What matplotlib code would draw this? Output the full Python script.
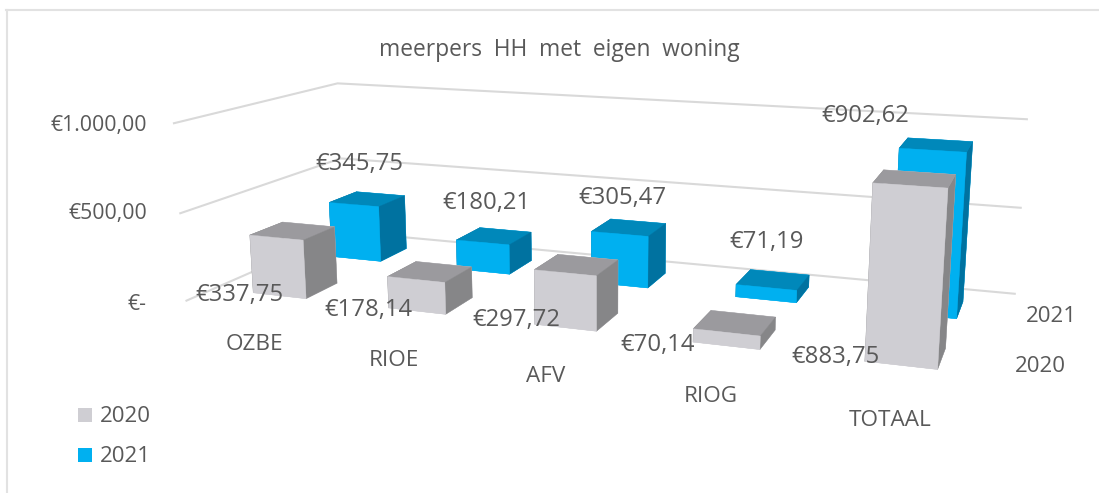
import numpy as np
import matplotlib
matplotlib.use('Agg')
import matplotlib.pyplot as plt
from matplotlib.lines import Line2D
from matplotlib.patches import Rectangle

W, H = 1099, 493

title = 'meerpers  HH  met  eigen  woning'
categories = ['OZBE', 'RIOE', 'AFV', 'RIOG', 'TOTAAL']
series = ['2020', '2021']
v2020 = [337.75, 178.14, 297.72, 70.14, 883.75]
v2021 = [345.75, 180.21, 305.47, 71.19, 902.62]
z_ticks = [0, 500, 1000]
z_tick_labels = ['€-', '€500,00', '€1.000,00']


def euro(v):
    return '€' + f'{v:.2f}'.replace('.', ',')


# Layout (pixels, y from top) of the text
z_tick_pos = [(147, 303), (147, 211), (147, 123)]
cat_pos = [(254, 342), (394, 359), (546, 375), (711, 394), (890, 418)]
series_pos = [(1040, 364), (1051, 314)]
lab2020_pos = [(239, 293), (368, 308), (516, 318), (658, 343), (835, 355)]
lab2021_pos = [(359, 162), (486, 201), (622, 196), (767, 240), (865, 114)]
legend_y = [415, 455]

GREY = ['#CFCED3', '#9B9A9E', '#CFCED3', '#CFCED3', '#868688', '#868688']
BLUE = ['#00B0F0', '#0088BA', '#00B0F0', '#00B0F0', '#0072A0', '#0072A0']
TXT = '#595959'
GRID = '#D9D9D9'
FONT = 'Open Sans'

fig = plt.figure(figsize=(W / 100, H / 100), dpi=100, facecolor='white')
ax = fig.add_axes([0, 0, 1, 1], projection='3d', computed_zorder=False)
ax.set_xlim(0, 5, view_margin=0)
ax.set_ylim(0, 2, view_margin=0)
ax.set_zlim(0, 1000, view_margin=0)
ax.view_init(elev=12.943, azim=-70.118)
ax.set_proj_type('persp', focal_length=0.3055)
ax.set_box_aspect((4.332, 1.7108, 1))
ax.set_axis_off()
ax.patch.set_visible(False)

# place the square 3D axes so the projected box lands where the reference has it
s, ox, oy = 4512.145, 604.148, 282.515
vx0, vx1 = ax.viewLim.intervalx
vy0, vy1 = ax.viewLim.intervaly
ax.set_position([(ox + s * vx0) / W, (oy + s * vy0) / H,
                 s * (vx1 - vx0) / W, s * (vy1 - vy0) / H])

for z in z_ticks:
    ax.plot([0, 0, 5], [0, 2, 2], [z, z, z], color=GRID, lw=1.5, zorder=1,
            solid_joinstyle='miter', clip_on=False)

bw, bd = 0.3991, 0.3913
for row, (vals, cols) in enumerate(((v2021, BLUE), (v2020, GREY))):
    r = 1 - row
    for i, v in enumerate(vals):
        ax.bar3d(i + .5 - bw / 2, r + .5 - bd / 2, 0, bw, bd, v, color=cols,
                 shade=False, edgecolor=cols, linewidth=0.3, zorder=3 + row, clip_on=False)


def T(x, y, s, ha='center', size=15.3):
    fig.text(x / W, 1 - (y + 2) / H, s, ha=ha, va='center', color=TXT, fontsize=size, family=FONT)


T(559, 48, title, size=16.4)
for (x, y), t in zip(z_tick_pos, z_tick_labels):
    T(x, y, t, ha='right')
for (x, y), t in zip(cat_pos, categories):
    T(x, y, t, size=16.2)
for (x, y), t in zip(series_pos, series):
    T(x, y, t, size=16)
for (x, y), v in zip(lab2020_pos, v2020):
    T(x, y, euro(v), size=17.2)
for (x, y), v in zip(lab2021_pos, v2021):
    T(x, y, euro(v), size=17.2)
for y, t, c in zip(legend_y, series, (GREY[0], BLUE[0])):
    fig.add_artist(Rectangle((78 / W, 1 - (y + 7) / H), 14 / W, 14 / H, transform=fig.transFigure,
                             facecolor=c, edgecolor='none'))
    T(100, y, t, ha='left', size=16)

# chart frame: only top and left edges are in the crop
fig.add_artist(Line2D([7 / W, 7 / W], [0, 1 - 10 / H], color='#E2E2E2', lw=1.5, transform=fig.transFigure))
fig.add_artist(Line2D([6 / W, 1], [1 - 10 / H, 1 - 10 / H], color='#E2E2E2', lw=1.5, transform=fig.transFigure))

fig.savefig('out.png', dpi=100)
